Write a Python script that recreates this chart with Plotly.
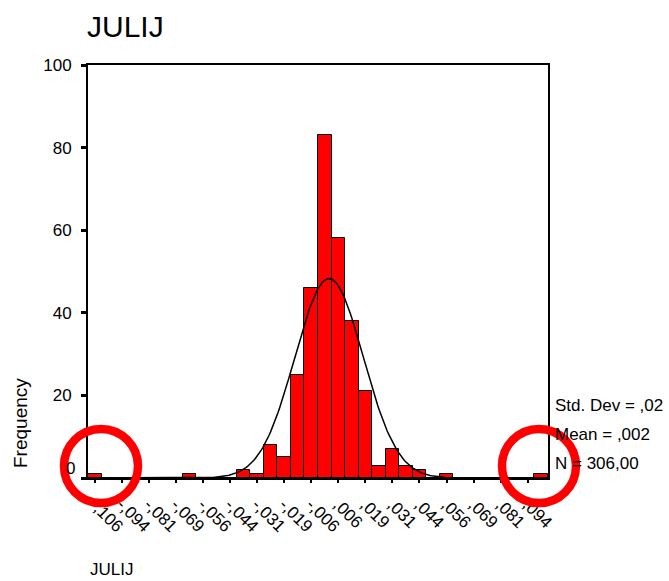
import math
import plotly.graph_objects as go

# ---- data ----
bin_centers = [-0.10625, -0.1, -0.09375, -0.0875, -0.08125, -0.075, -0.06875, -0.0625,
               -0.05625, -0.05, -0.04375, -0.0375, -0.03125, -0.025, -0.01875, -0.0125,
               -0.00625, 0.0, 0.00625, 0.0125, 0.01875, 0.025, 0.03125, 0.0375,
               0.04375, 0.05, 0.05625, 0.0625, 0.06875, 0.075, 0.08125, 0.0875,
               0.09375, 0.1]
frequencies = [1, 0, 0, 0, 0, 0, 0, 1,
               0, 0, 0, 2, 1, 8, 5, 25,
               46, 83, 58, 38, 21, 3, 7, 3,
               2, 0, 1, 0, 0, 0, 0, 0,
               0, 1]
bin_width = 0.00625
tick_labels = ["-,106", "-,094", "-,081", "-,069", "-,056", "-,044", "-,031", "-,019", "-,006",
               ",006", ",019", ",031", ",044", ",056", ",069", ",081", ",094"]
y_ticks = [0, 20, 40, 60, 80, 100]
y_tick_labels = ["", "20", "40", "60", "80", "100"]
mean_val = 0.002
sd_val = 0.0158
n_val = 306
stats_lines = ["Std. Dev = ,02", "Mean = ,002", "N = 306,00"]

FONT = "Liberation Sans, Arial, sans-serif"

fig = go.Figure()
fig.add_trace(go.Bar(
    x=bin_centers, y=frequencies, width=bin_width,
    marker=dict(color="#FF0000", line=dict(color="black", width=1)),
    showlegend=False, hoverinfo="x+y"))

# fitted normal curve
x_lo = bin_centers[0] - bin_width / 2
x_hi = bin_centers[-1] + bin_width / 2
steps = 300
cx = [x_lo + (x_hi - x_lo) * i / steps for i in range(steps + 1)]
scale = n_val * bin_width / (sd_val * math.sqrt(2 * math.pi))
cy = [scale * math.exp(-0.5 * ((v - mean_val) / sd_val) ** 2) for v in cx]
fig.add_trace(go.Scatter(x=cx, y=cy, mode="lines",
                         line=dict(color="black", width=1.5),
                         showlegend=False, hoverinfo="skip"))

fig.update_layout(
    width=669, height=581,
    margin=dict(l=88, r=121, t=65, b=103, autoexpand=False),
    paper_bgcolor="white", plot_bgcolor="white",
    font=dict(family=FONT, color="black", size=16),
    bargap=0,
    title=dict(text="JULIJ", x=87 / 669, xanchor="left", xref="container",
               y=1 - 26 / 581, yanchor="middle", yref="container",
               font=dict(size=30, family=FONT, color="black")),
)
fig.update_xaxes(
    range=[x_lo, x_hi],
    tickmode="array", tickvals=bin_centers[::2], ticktext=tick_labels,
    tickangle=45, ticks="outside", ticklen=3, tickwidth=2, tickcolor="black",
    tickfont=dict(size=17, family=FONT), ticklabelstandoff=5,
    showline=True, linecolor="black", linewidth=2, mirror=True,
    showgrid=False, zeroline=False,
)
fig.update_yaxes(
    range=[0, 100],
    tickmode="array", tickvals=y_ticks, ticktext=y_tick_labels,
    ticks="outside", ticklen=5, tickwidth=3, tickcolor="black",
    tickfont=dict(size=17, family=FONT), ticklabelstandoff=6,
    showline=True, linecolor="black", linewidth=2, mirror=True,
    showgrid=False, zeroline=False,
)

# zero label sits slightly above the baseline in the reference
fig.add_annotation(text="0", xref="paper", yref="paper",
                   x=(77 - 88) / 460, y=(478 - 468) / 413,
                   showarrow=False, font=dict(size=17, family=FONT),
                   xanchor="right", yanchor="middle")

# axis titles
fig.add_annotation(text="Frequency", xref="paper", yref="paper",
                   x=(20 - 88) / 460, y=(478 - 423) / 413, textangle=-90,
                   showarrow=False, font=dict(size=19, family=FONT),
                   xanchor="center", yanchor="middle")
fig.add_annotation(text="JULIJ", xref="paper", yref="paper",
                   x=(88 - 88) / 460, y=(478 - 569) / 413,
                   showarrow=False, font=dict(size=17, family=FONT),
                   xanchor="left", yanchor="middle")

# stats box text
for i, line in enumerate(stats_lines):
    fig.add_annotation(text=line, xref="paper", yref="paper",
                       x=(553 - 88) / 460, y=(478 - (405 + 29 * i)) / 413,
                       showarrow=False, font=dict(size=17, family=FONT),
                       xanchor="left", yanchor="middle")

# red highlight rings
for cxp, cyp in [(101, 466), (539, 466)]:
    fig.add_shape(type="circle", xref="paper", yref="paper",
                  xsizemode="pixel", ysizemode="pixel",
                  xanchor=(cxp - 88) / 460, yanchor=(478 - cyp) / 413,
                  x0=-37, x1=37, y0=-37, y1=37,
                  line=dict(color="#FF0000", width=8.5), layer="above")

fig.write_html("out.html", config={"displayModeBar": False},
               post_script="document.body.style.margin='0';document.body.style.overflow='hidden';")
